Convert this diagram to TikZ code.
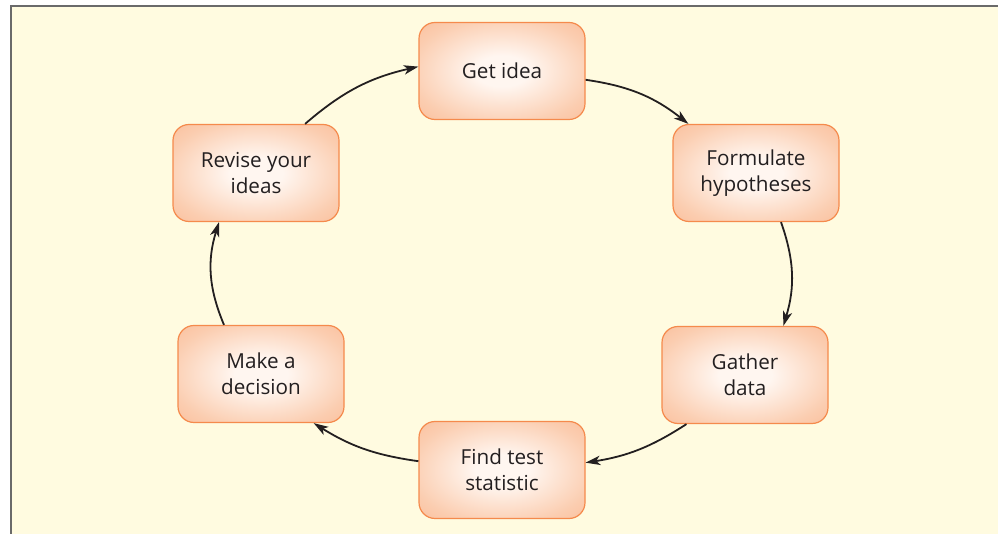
\documentclass[tikz,border=0pt]{standalone}
\usepackage{fontspec}
\setmainfont{Open Sans}
\usetikzlibrary{arrows.meta}

\definecolor{paper}{HTML}{FFFBE0}
\definecolor{frameline}{HTML}{6A6A6A}
\definecolor{boxedge}{HTML}{F58A4C}
\definecolor{boxfill}{HTML}{F8AE84}
\definecolor{boxmid}{HTML}{FBCDB0}
\definecolor{boxglow}{HTML}{FFF6F0}
\definecolor{ink}{HTML}{231F20}

\pgfdeclareradialshading{stepglow}{\pgfpoint{0bp}{0bp}}{%
  color(0bp)=(boxglow); color(8bp)=(boxglow); color(28bp)=(boxmid);
  color(48bp)=(boxfill); color(75bp)=(boxfill)}

\tikzset{
  stepbox/.style={draw=boxedge, line width=0.9pt, rounded corners=12pt,
    shading=stepglow, minimum width=124.5pt, minimum height=72.75pt,
    align=center, text=ink, font=\fontsize{15.5}{19.5}\selectfont},
  cycarrow/.style={-{Stealth[length=11pt,width=7pt,inset=3pt]}, line width=1.35pt, ink}
}

\begin{document}
\begin{tikzpicture}[x=0.75pt, y=0.75pt]
  \useasboundingbox (0,0) rectangle (998,534);
  % paper and frame
  \fill[paper] (11,0) rectangle (998,528);
  \draw[frameline, line width=1.6pt] (11,0) -- (11,528) -- (998,528);

  % the six steps
  \node[stepbox] (get)    at (502,463) {Get idea};
  \node[stepbox] (form)   at (756,361) {Formulate\\hypotheses};
  \node[stepbox] (gather) at (745,159) {Gather\\data};
  \node[stepbox] (find)   at (502,64)  {Find test\\statistic};
  \node[stepbox] (decide) at (261,160) {Make a\\decision};
  \node[stepbox] (revise) at (256,361) {Revise your\\ideas};

  % cycle
  \draw[cycarrow] (get.-6)      to[bend left=15] (form.144);
  \draw[cycarrow] (form.-63)    to[bend left=18] (gather.52);
  \draw[cycarrow] (gather.-140) to[bend left=12] (find.5);
  \draw[cycarrow] (find.174)    to[bend left=12] (decide.-43);
  \draw[cycarrow] (decide.127)  to[bend left=20] (revise.-127);
  \draw[cycarrow] (revise.45)   to[bend left=14] (get.177);
\end{tikzpicture}
\end{document}
